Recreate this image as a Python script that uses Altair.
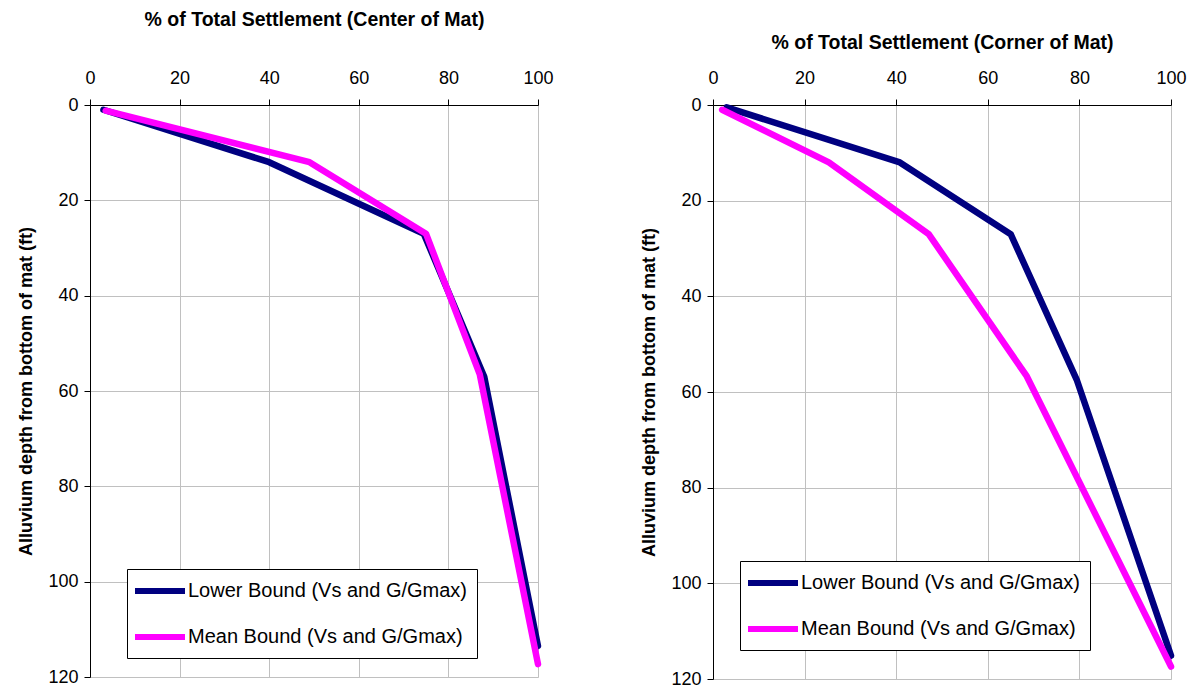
import altair as alt
import pandas as pd

series_names = ["Lower Bound (Vs and G/Gmax)", "Mean Bound (Vs and G/Gmax)"]
series_colors = ["#000080", "#FF00FF"]

# Center of mat
center_lower_pct = [3.0, 40.0, 74.5, 88.0, 100.0]
center_lower_depth = [1.0, 12.0, 27.0, 57.0, 113.5]
center_mean_pct = [3.5, 49.0, 75.0, 87.0, 100.0]
center_mean_depth = [1.2, 12.0, 27.0, 56.5, 117.3]

# Corner of mat
corner_lower_pct = [3.0, 40.8, 65.0, 79.4, 100.0]
corner_lower_depth = [0.5, 12.0, 27.0, 57.4, 115.1]
corner_mean_pct = [2.0, 25.3, 47.1, 68.5, 100.0]
corner_mean_depth = [1.0, 12.0, 27.0, 56.7, 117.4]

x_ticks = [0, 20, 40, 60, 80, 100]
y_ticks = [0, 20, 40, 60, 80, 100, 120]

FONT = "Liberation Sans"


def make_df(lower_pct, lower_depth, mean_pct, mean_depth):
    rows = []
    for i, (p, d) in enumerate(zip(lower_pct, lower_depth)):
        rows.append({"pct": p, "depth": d, "series": series_names[0], "idx": i})
    for i, (p, d) in enumerate(zip(mean_pct, mean_depth)):
        rows.append({"pct": p, "depth": d, "series": series_names[1], "idx": i})
    return pd.DataFrame(rows)


def panel(df, title, w, h, title_pad, lx, ly):
    return alt.Chart(df).mark_line(
        strokeWidth=6.5, strokeCap="round", strokeJoin="round"
    ).encode(
        x=alt.X(
            "pct:Q",
            scale=alt.Scale(domain=[0, 100], nice=False, zero=False),
            axis=alt.Axis(
                orient="top", values=x_ticks, title=title,
                titleFont=FONT, titleFontSize=19.5, titleFontWeight="bold",
                titleColor="black", titlePadding=title_pad,
                labelFont=FONT, labelFontSize=18, labelColor="black",
                labelPadding=12, tickSize=6, tickColor="black",
                domainColor="black", gridColor="#c0c0c0",
                labelFlush=False,
            ),
        ),
        y=alt.Y(
            "depth:Q",
            scale=alt.Scale(domain=[0, 120], reverse=True, nice=False, zero=False),
            axis=alt.Axis(
                values=y_ticks, title="Alluvium depth from bottom of mat (ft)",
                titleFont=FONT, titleFontSize=18, titleFontWeight="bold",
                titleColor="black", titlePadding=12,
                labelFont=FONT, labelFontSize=18, labelColor="black",
                labelPadding=6, tickSize=6, tickColor="black",
                domainColor="black", gridColor="#c0c0c0",
                labelFlush=False,
            ),
        ),
        color=alt.Color(
            "series:N",
            scale=alt.Scale(domain=series_names, range=series_colors),
            legend=alt.Legend(
                title=None, orient="none", legendX=lx, legendY=ly,
                direction="vertical", symbolType="M-2.5,0H2.5",
                symbolStrokeWidth=6, symbolSize=400, symbolOffset=11,
                labelFont=FONT, labelFontSize=20, labelColor="black",
                labelLimit=0, labelOffset=15, rowPadding=21,
                strokeColor="black", fillColor="white", padding=9,
            ),
        ),
        order="idx:Q",
    ).properties(width=w, height=h)


left = panel(
    make_df(center_lower_pct, center_lower_depth, center_mean_pct, center_mean_depth),
    "% of Total Settlement (Center of Mat)", 448, 572, 40, 37, 464,
)
right = panel(
    make_df(corner_lower_pct, corner_lower_depth, corner_mean_pct, corner_mean_depth),
    "% of Total Settlement (Corner of Mat)", 458, 574, 17, 27, 456,
)

chart = alt.hconcat(left, right, spacing=86).resolve_scale(
    color="independent"
).resolve_legend(color="independent").properties(
    padding={"left": 9, "top": 0, "right": 0, "bottom": 0}
).configure_view(stroke="#404040", strokeWidth=1.5).configure(background="white")

chart.save("out.html", embed_options={"renderer": "svg", "actions": False})
